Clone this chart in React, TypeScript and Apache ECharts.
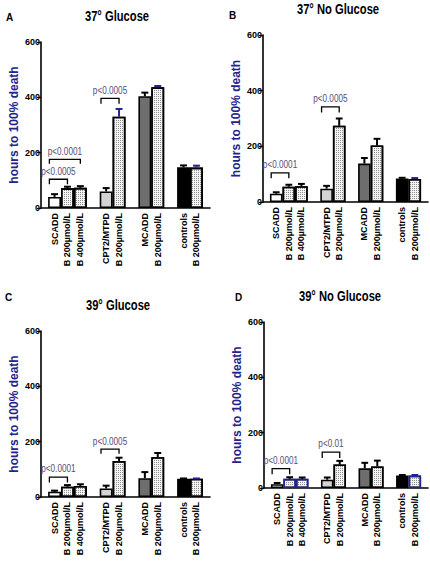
import React, { useEffect, useRef } from "react";
import * as echarts from "echarts";

// ---------- data ----------
const categories = [
  "SCADD",
  "B 200µmol/L",
  "B 400µmol/L",
  "CPT2/MTPD",
  "B 200µmol/L",
  "MCADD",
  "B 200µmol/L",
  "controls",
  "B 200µmol/L",
];
const groupOf = [0, 0, 0, 1, 1, 2, 2, 3, 3];
const treated = [false, true, true, false, true, false, true, false, true];

const yTicks = [0, 200, 400, 600];

// panel A: 37° Glucose
const meanA = [40, 71, 73, 60, 330, 404, 436, 147, 146];
const semA = [10, 6, 6, 12, 28, 13, 5, 7, 7];
// panel B: 37° No Glucose
const meanB = [30, 55, 57, 48, 274, 138, 203, 84, 83];
const semB = [5, 7, 8, 10, 26, 20, 24, 3, 3];
// panel C: 39° Glucose
const meanC = [19, 37, 40, 31, 130, 68, 144, 66, 66];
const semC = [4, 6, 6, 10, 12, 22, 15, 1, 1];
// panel D: 39° No Glucose
const meanD = [14, 33, 33, 30, 85, 71, 78, 45, 45];
const semD = [4, 6, 5, 8, 13, 20, 21, 2, 2];

// significance brackets: [fromBar, toBar, lineLevel, hookLevel, label]
const bracketsA: [number, number, number, number, string][] = [
  [0, 1, 104, 86, "p<0.0005"],
  [0, 2, 176, 160, "p<0.0001"],
  [3, 4, 396, 377, "p<0.0005"],
];
const bracketsB: [number, number, number, number, string][] = [
  [0, 1, 105, 85, "p<0.0001"],
  [3, 4, 342, 322, "p<0.0005"],
];
const bracketsC: [number, number, number, number, string][] = [
  [0, 1, 72, 52, "p<0.0001"],
  [3, 4, 173, 156, "p<0.0005"],
];
const bracketsD: [number, number, number, number, string][] = [
  [0, 1, 70, 50, "p<0.0001"],
  [3, 4, 130, 108, "p<0.01"],
];

// ---------- style / layout ----------
const NAVY = "#23238e";
const PCOLOR = "#5a4c78";
const fills = ["#ffffff", "#f4f4f4", "#f4f4f4", "#d3d3d3", "#f4f4f4", "#6e6e6e", "#f4f4f4", "#000000", "#f4f4f4"];
const LEAD = 0.55;
const GAP = 1;
const XMAX = 13.1;
const centers = categories.map((_, i) => LEAD + i + 0.5 + groupOf[i] * GAP);

const ARIAL = "'Liberation Sans', Arial, sans-serif";

const dotDecal = {
  symbol: "rect",
  symbolSize: 1,
  dashArrayX: [1, 1],
  dashArrayY: [1, 1],
  color: "#8c8c8c",
  rotation: 0,
};

type Panel = {
  letter: string;
  title: string;
  means: number[];
  sems: number[];
  brackets: [number, number, number, number, string][];
  navyErr: number[];
  navyBorder: number[];
  grid: { left: number; top: number; width: number; height: number };
  letterPos: [number, number];
  titlePos: [number, number];
};

const panels: Panel[] = [
  {
    letter: "A",
    title: "37° Glucose",
    means: meanA,
    sems: semA,
    brackets: bracketsA,
    navyErr: [4, 6, 8],
    navyBorder: [],
    grid: { left: 41, top: 42, width: 169, height: 166 },
    letterPos: [6, 17],
    titlePos: [117, 17],
  },
  {
    letter: "B",
    title: "37° No Glucose",
    means: meanB,
    sems: semB,
    brackets: bracketsB,
    navyErr: [8],
    navyBorder: [],
    grid: { left: 263, top: 35, width: 165, height: 167 },
    letterPos: [229, 15],
    titlePos: [338, 10],
  },
  {
    letter: "C",
    title: "39° Glucose",
    means: meanC,
    sems: semC,
    brackets: bracketsC,
    navyErr: [8],
    navyBorder: [],
    grid: { left: 41, top: 331, width: 169, height: 166 },
    letterPos: [5, 297],
    titlePos: [118, 306],
  },
  {
    letter: "D",
    title: "39° No Glucose",
    means: meanD,
    sems: semD,
    brackets: bracketsD,
    navyErr: [8],
    navyBorder: [1, 2, 8],
    grid: { left: 264, top: 322, width: 164, height: 166 },
    letterPos: [235, 297],
    titlePos: [340, 297],
  },
];

function buildOption() {
  const grid: any[] = [];
  const xAxis: any[] = [];
  const yAxis: any[] = [];
  const series: any[] = [];
  const graphic: any[] = [];

  panels.forEach((p, k) => {
    grid.push({ ...p.grid, containLabel: false });
    xAxis.push({
      type: "value",
      gridIndex: k,
      min: 0,
      max: XMAX,
      axisLine: { show: true, onZero: false, lineStyle: { color: "#000", width: 1.6 } },
      axisTick: { show: false },
      splitLine: { show: false },
      axisLabel: {
        customValues: centers,
        rotate: 90,
        margin: 5,
        fontSize: 9,
        fontWeight: "bold",
        fontFamily: ARIAL,
        color: "#000",
        formatter: (v: number) => {
          let best = 0;
          centers.forEach((c, i) => {
            if (Math.abs(c - v) < Math.abs(centers[best] - v)) best = i;
          });
          return categories[best];
        },
      },
    });
    yAxis.push({
      type: "value",
      gridIndex: k,
      min: 0,
      max: 600,
      interval: 200,
      name: "hours to 100% death",
      nameLocation: "middle",
      nameGap: 21,
      nameTextStyle: { color: NAVY, fontSize: 12, fontWeight: "bold", fontFamily: ARIAL },
      axisLine: { show: true, lineStyle: { color: "#000", width: 1.6 } },
      axisTick: { show: true, length: 4, lineStyle: { color: "#000", width: 1.2 } },
      splitLine: { show: false },
      axisLabel: {
        margin: 1,
        fontSize: 9,
        fontWeight: "bold",
        fontFamily: ARIAL,
        color: "#000",
        customValues: yTicks,
      },
    });

    const unit = p.grid.width / XMAX;

    series.push({
      type: "bar",
      xAxisIndex: k,
      yAxisIndex: k,
      barWidth: unit,
      z: 2,
      data: p.means.map((v, i) => ({
        value: [centers[i], v],
        itemStyle: {
          color: fills[i],
          borderColor: p.navyBorder.includes(i) ? NAVY : "#000",
          borderWidth: 1.6,
          ...(treated[i] ? { decal: dotDecal } : {}),
        },
      })),
    });

    series.push({
      type: "custom",
      xAxisIndex: k,
      yAxisIndex: k,
      z: 3,
      data: p.means.map((v, i) => [centers[i], v, p.sems[i], p.navyErr.includes(i) ? 1 : 0]),
      renderItem: (params: any, api: any) => {
        const x = api.value(0);
        const y = api.value(1);
        const e = api.value(2);
        const navy = api.value(3) === 1;
        const p0 = api.coord([x, y]);
        const p1 = api.coord([x, y + e]);
        const half = api.size([0.27, 0])[0];
        const stroke = navy ? NAVY : "#000";
        return {
          type: "group",
          children: [
            { type: "line", shape: { x1: p0[0], y1: p0[1], x2: p1[0], y2: p1[1] }, style: { stroke, lineWidth: 2 } },
            { type: "line", shape: { x1: p1[0] - half, y1: p1[1], x2: p1[0] + half, y2: p1[1] }, style: { stroke, lineWidth: 2 } },
          ],
        };
      },
    });

    series.push({
      type: "custom",
      xAxisIndex: k,
      yAxisIndex: k,
      z: 4,
      data: p.brackets.map((b) => [centers[b[0]] - 0.4, centers[b[1]], b[2], b[3]]),
      renderItem: (params: any, api: any) => {
        const label = p.brackets[params.dataIndex][4];
        const xa = api.value(0);
        const xb = api.value(1);
        const yl = api.value(2);
        const yh = api.value(3);
        const a = api.coord([xa, yl]);
        const b = api.coord([xb, yl]);
        const h = api.coord([xa, yh]);
        return {
          type: "group",
          children: [
            {
              type: "polyline",
              shape: { points: [[a[0], h[1]], [a[0], a[1]], [b[0], b[1]], [b[0], h[1]]] },
              style: { stroke: "#000", lineWidth: 1.3, fill: null },
            },
            {
              type: "text",
              x: (a[0] + b[0]) / 2,
              y: a[1] - 3,
              scaleX: 0.78,
              style: {
                text: label,
                fill: PCOLOR,
                fontSize: 10.5,
                fontFamily: ARIAL,
                textAlign: "center",
                textVerticalAlign: "bottom",
              },
            },
          ],
        };
      },
    });

    graphic.push({
      type: "text",
      x: p.letterPos[0],
      y: p.letterPos[1],
      style: {
        text: p.letter,
        fontSize: 10,
        fontWeight: "bold",
        fontFamily: ARIAL,
        fill: "#000",
        textAlign: "left",
        textVerticalAlign: "middle",
      },
    });
    graphic.push({
      type: "text",
      x: p.titlePos[0],
      y: p.titlePos[1],
      scaleX: 0.8,
      style: {
        text: p.title,
        fontSize: 14,
        fontWeight: "bold",
        fontFamily: ARIAL,
        fill: "#000",
        textAlign: "center",
        textVerticalAlign: "middle",
      },
    });
  });

  return {
    animation: false,
    backgroundColor: "#ffffff",
    grid,
    xAxis,
    yAxis,
    series,
    graphic,
  };
}

export default function App() {
  const ref = useRef<HTMLDivElement>(null);
  useEffect(() => {
    if (!ref.current) return;
    const chart = echarts.init(ref.current, undefined, { renderer: "svg" });
    chart.setOption(buildOption() as any);
    return () => chart.dispose();
  }, []);
  return (
    <div
      ref={ref}
      style={{ position: "absolute", left: 0, top: 0, width: 430, height: 567, background: "#fff" }}
    />
  );
}
